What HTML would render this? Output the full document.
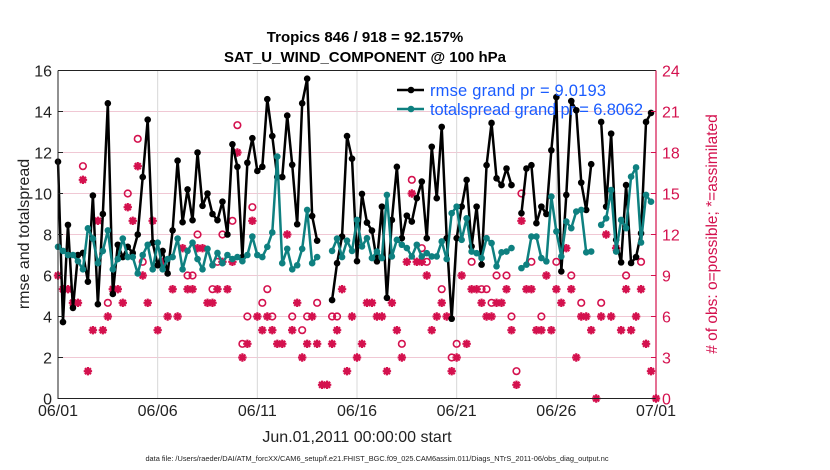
<!DOCTYPE html>
<html><head><meta charset="utf-8"><style>
html,body{margin:0;padding:0;background:#fff;}
svg{display:block;font-family:"Liberation Sans",Arial,sans-serif;}
</style></head><body>
<svg id="chart" width="830" height="470" viewBox="0 0 830 470">
<g id="grid"></g>
<g id="obs"></g>
<g id="lines"></g>
<g id="axes"></g>
<text x="365" y="42" text-anchor="middle" font-size="15" font-weight="bold">Tropics 846 / 918 = 92.157%</text>
<text x="365" y="62" text-anchor="middle" font-size="15" font-weight="bold">SAT_U_WIND_COMPONENT @ 100 hPa</text>
<text transform="translate(29,234) rotate(-90)" text-anchor="middle" font-size="16" fill="#222">rmse and totalspread</text>
<text transform="translate(717,234) rotate(-90)" text-anchor="middle" font-size="15.5" fill="#d4114e"># of obs: o=possible; *=assimilated</text>
<text x="357" y="442" text-anchor="middle" font-size="16" fill="#222">Jun.01,2011 00:00:00 start</text>
<text x="377" y="461" text-anchor="middle" font-size="7.4" fill="#222">data file: /Users/raeder/DAI/ATM_forcXX/CAM6_setup/f.e21.FHIST_BGC.f09_025.CAM6assim.011/Diags_NTrS_2011-06/obs_diag_output.nc</text>
<g>
<g>
<line x1="397" y1="90" x2="424" y2="90" stroke="#000" stroke-width="2.5"/><circle cx="411" cy="90" r="3.3" fill="#000"/>
<text x="430" y="96" font-size="16.5" fill="#1a5cff" textLength="176">rmse grand pr = 9.0193</text></g>
<g>
<line x1="397" y1="109" x2="424" y2="109" stroke="#0e8080" stroke-width="2.5"/><circle cx="411" cy="109" r="3.3" fill="#0e8080"/>
<text x="430" y="115" font-size="16.5" fill="#1a5cff" textLength="213">totalspread grand pr = 6.8062</text></g>
</g>
</svg>
<script>
const rmse=[11.55,3.73,8.47,4.42,7.0,7.1,5.7,9.9,4.6,9.0,14.4,5.1,7.5,6.9,7.4,7.1,8.0,10.8,13.6,7.6,6.5,7.2,6.1,8.2,11.6,8.6,10.2,8.7,12.0,9.4,10.0,9.0,8.7,9.6,8.0,12.4,11.3,6.9,11.5,12.7,11.1,11.3,14.6,12.8,10.8,10.8,13.8,11.4,8.5,14.4,15.6,8.9,7.7,null,null,4.8,6.6,7.9,12.8,11.7,
6.70,9.98,8.58,8.19,6.69,9.36,4.91,8.71,11.30,7.82,8.92,8.63,9.77,10.58,7.82,12.28,9.77,13.25,7.82,3.89,7.82,9.36,10.66,7.42,9.36,6.53,11.38,13.44,10.74,10.41,11.22,10.41,null,9.04,11.22,11.38,8.55,9.36,9.0,12.11,14.70,6.20,9.93,14.51,14.06,10.53,9.20,11.43,null,13.49,9.36,12.92,7.74,6.64,10.41,6.61,6.9,8.06,13.49,13.93];
const spread=[7.4,7.2,7.0,7.0,6.7,6.3,8.3,7.8,6.6,7.2,8.2,6.3,6.8,7.8,6.9,6.9,6.1,7.0,7.5,6.3,7.6,6.3,6.8,6.9,7.8,6.3,7.2,7.6,6.8,6.3,7.3,6.5,7.1,6.6,7.0,6.8,6.9,6.7,7.0,7.9,7.0,6.9,7.4,8.1,11.8,6.6,7.3,6.3,6.5,7.3,9.2,6.6,6.9,null,null,7.2,7.8,6.9,7.7,7.2,
8.71,7.42,7.82,6.85,7.17,6.85,9.93,6.93,7.74,7.50,7.34,6.93,7.50,6.93,7.09,6.93,6.93,7.66,6.80,9.04,9.36,7.74,8.79,7.17,7.09,6.85,7.82,7.58,6.45,7.13,7.17,7.34,null,6.36,6.53,7.90,7.90,6.85,6.69,9.85,8.15,6.93,8.63,8.31,9.12,9.20,7.13,7.17,null,8.47,8.79,10.17,7.17,8.71,8.31,10.82,11.27,7.61,9.93,9.60];
const assimilated=[9,8,8,7,7,16,2,5,13,5,6,8,8,7,14,13,17,9,7,13,5,10,6,8,6,11,8,8,11,11,7,7,8,10,8,10,18,3,4,13,6,5,6,5,4,4,12,5,7,3,4,6,4,1,1,4,5,8,2,6,
3,4,7,7,6,6,2,7,5,3,10,15,10,10,9,5,6,7,6,2,3,9,4,8,8,7,6,6,7,7,8,5,1,13,8,8,5,5,9,5,8,7,11,8,3,6,6,5,0,6,12,6,11,5,8,5,6,8,4,2,0];
const possible=[9,8,8,7,7,17,2,5,13,5,7,8,8,7,15,13,19,10,7,13,5,10,6,8,6,11,9,9,12,11,7,8,10,12,8,13,20,4,6,14,6,7,8,6,4,4,12,6,7,5,6,6,7,1,1,6,6,8,2,6,
3,4,7,7,6,6,2,7,5,4,10,16,10,11,10,5,6,8,6,3,4,9,4,10,8,8,8,7,9,7,9,6,2,15,8,10,5,6,9,5,10,7,11,9,3,7,6,5,0,7,12,6,11,5,9,5,6,10,4,2,0];
const xTicks=['06/01','06/06','06/11','06/16','06/21','06/26','07/01'];
const yTicks=[0,2,4,6,8,10,12,14,16];
const rTicks=[0,3,6,9,12,15,18,21,24];

const L=58,R=656,T=70.5,B=398.5;
const X=i=>L+i*(R-L)/120;
const Y=v=>B-v*(B-T)/16;
const YR=v=>B-v*(B-T)/24;
const NS='http://www.w3.org/2000/svg';
function mk(p,t,a){const e=document.createElementNS(NS,t);for(const k in a)e.setAttribute(k,a[k]);p.appendChild(e);return e;}
const grid=document.getElementById('grid'),axes=document.getElementById('axes'),obs=document.getElementById('obs'),lines=document.getElementById('lines');
const OC='#d4114e';
yTicks.forEach(v=>{
  if(v>0&&v<16){const g=mk(grid,'line',{x1:L,x2:R,y1:Y(v),y2:Y(v),stroke:'#f0c8d4','stroke-width':1});
  
  }
  const t=mk(axes,'text',{x:L-6,y:Y(v)+6,'text-anchor':'end','font-size':16,fill:'#222'});t.textContent=v;
  
  
  mk(axes,'line',{x1:L,x2:L+5,y1:Y(v),y2:Y(v),stroke:'#222'});
});
xTicks.forEach((s,k)=>{
  const x=X(k*20);
  if(k>0&&k<6){const g=mk(grid,'line',{x1:x,x2:x,y1:T,y2:B,stroke:'#d8d8d8','stroke-width':1});
  
  }
  const t=mk(axes,'text',{x:x,y:416,'text-anchor':'middle','font-size':16,fill:'#222'});t.textContent=s;
  
  
});
rTicks.forEach(v=>{
  mk(axes,'line',{x1:R-5,x2:R,y1:YR(v),y2:YR(v),stroke:OC});
  const t=mk(axes,'text',{x:R+6,y:YR(v)+6,'font-size':16,fill:OC});t.textContent=v;
  
  
});
mk(axes,'path',{d:`M${L},${T}V${B}H${R}`,fill:'none',stroke:'#222','stroke-width':1});
mk(axes,'line',{x1:L,x2:R,y1:T,y2:T,stroke:'#222','stroke-width':1});
mk(axes,'line',{x1:R,x2:R,y1:T,y2:B,stroke:OC,'stroke-width':1.2});

possible.forEach((v,i)=>{
  if(v===assimilated[i])return;
  const c=mk(obs,'circle',{cx:X(i),cy:YR(v),r:3.3,fill:'none',stroke:OC,'stroke-width':1.6});
  
  
});
assimilated.forEach((v,i)=>{
  const x=X(i),y=YR(v),r=4.2;
  const g=mk(obs,'path',{d:`M${x-r},${y}H${x+r}M${x},${y-r}V${y+r}M${x-3},${y-3}L${x+3},${y+3}M${x-3},${y+3}L${x+3},${y-3}`,stroke:OC,'stroke-width':2.2});
  
  
});
function series(arr,col,name){
  let d='',pen=false;
  arr.forEach((v,i)=>{if(v===null){pen=false;return;}d+=(pen?'L':'M')+X(i)+','+Y(v);pen=true;});
  const p=mk(lines,'path',{d:d,fill:'none',stroke:col,'stroke-width':2.5,'stroke-linejoin':'round'});
  
  
  arr.forEach((v,i)=>{if(v===null)return;
    const c=mk(lines,'circle',{cx:X(i),cy:Y(v),r:3.3,fill:col});
    
    
  });
}
series(rmse,'#000','rmse');
series(spread,'#0e8080','totalspread');
</script>
</body></html>
